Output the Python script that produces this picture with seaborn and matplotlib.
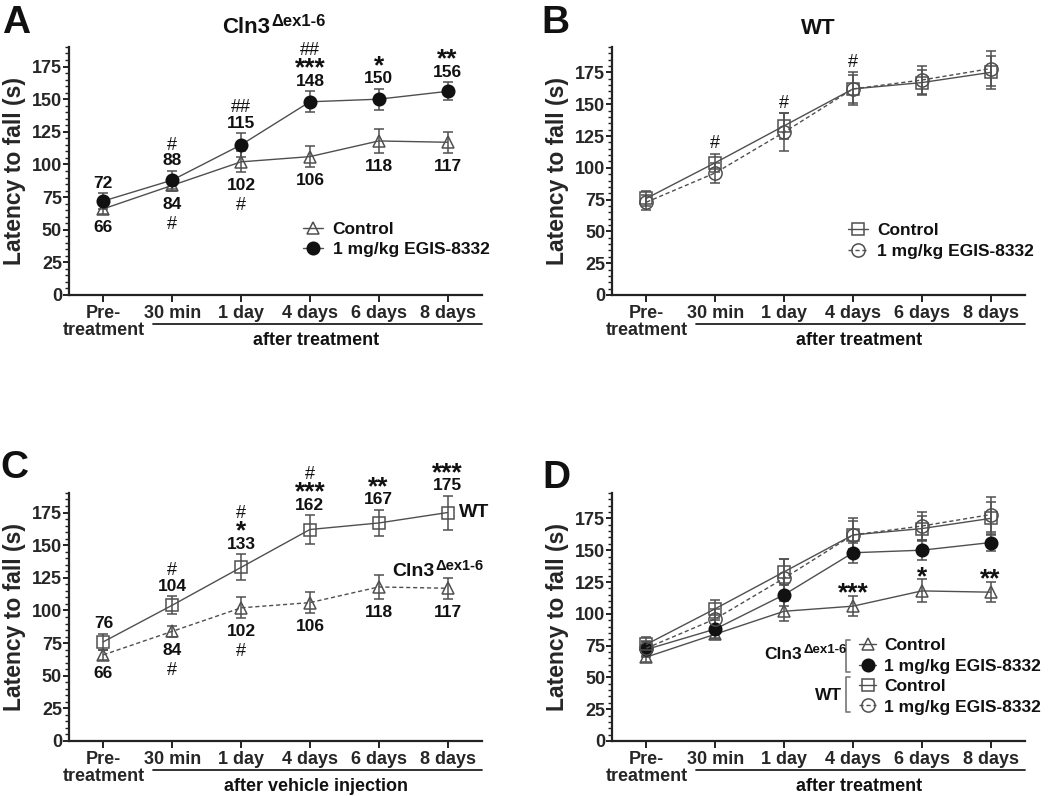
#!/usr/bin/env python

import matplotlib
matplotlib.use("Agg")
import matplotlib.pyplot as plt
from matplotlib.lines import Line2D
from matplotlib.ticker import MultipleLocator
import numpy as np
import pandas as pd
import seaborn as sns

# Time points on the x axis.
timepoints = ["Pre-\ntreatment", "30 min", "1 day", "4 days", "6 days", "8 days"]

# Mean latency to fall (s) and SEM.
cln3_ctrl = [66, 84, 102, 106, 118, 117]
cln3_ctrl_sem = [4, 4, 8, 8, 9, 8]
cln3_egis = [72, 88, 115, 148, 150, 156]
cln3_egis_sem = [6, 7, 9, 8, 8, 7]
wt_ctrl = [76, 104, 133, 162, 167, 175]
wt_ctrl_sem = [6, 7, 10, 11, 10, 13]
wt_egis = [73, 96, 128, 162, 169, 178]
wt_egis_sem = [6, 8, 15, 13, 11, 14]

# Value labels and significance marks, stacked outward from the error bar.
a_above = [["72"], ["88", "#"], ["115", "##"], ["148", "***", "##"], ["150", "*"], ["156", "**"]]
a_below = [["66"], ["84", "#"], ["102", "#"], ["106"], ["118"], ["117"]]
b_above = [[], ["#"], ["#"], ["#"], [], []]
c_above = [["76"], ["104", "#"], ["133", "*", "#"], ["162", "***", "#"], ["167", "**"], ["175", "***"]]
c_below = [["66"], ["84", "#"], ["102", "#"], ["106"], ["118"], ["117"]]
d_above = [[], [], [], ["***"], ["*"], ["**"]]

legend_labels = ["Control", "1 mg/kg EGIS-8332"]

# Long-form table for seaborn.
groups = ["cln3_ctrl", "cln3_egis", "wt_ctrl", "wt_egis"]
df = pd.DataFrame(
    {
        "pos": np.tile(np.arange(len(timepoints)), len(groups)),
        "group": np.repeat(groups, len(timepoints)),
        "latency": np.concatenate([cln3_ctrl, cln3_egis, wt_ctrl, wt_egis]),
        "sem": np.concatenate([cln3_ctrl_sem, cln3_egis_sem, wt_ctrl_sem, wt_egis_sem]),
    }
)

sns.set_style("ticks")
plt.rcParams["font.family"] = ["Liberation Sans", "DejaVu Sans"]
plt.rcParams["text.color"] = "#111111"

GRAY = "#4f4f4f"
DASH = (0, (3, 2))

styles = {
    "cln3_ctrl": dict(marker="^", ms=9, mfc="none", mec=GRAY),
    "cln3_egis": dict(marker="o", ms=9, mfc="#111111", mec="#111111"),
    "wt_ctrl": dict(marker="s", ms=8.5, mfc="none", mec=GRAY),
    "wt_egis": dict(marker="o", ms=9.5, mfc="none", mec=GRAY),
}


def draw_series(ax, key, ls="-", label=None):
    d = df[df["group"] == key]
    ax.errorbar(
        d["pos"], d["latency"], yerr=d["sem"], fmt="none", ecolor=GRAY,
        elinewidth=1.1, capsize=3.6, capthick=1.1, zorder=2,
    )
    sns.lineplot(
        data=d, x="pos", y="latency", ax=ax, color=GRAY, lw=1.0, ls=ls,
        mew=1.1, errorbar=None, zorder=3, label=label, legend=False,
        **styles[key],
    )
    return ax.lines[-1]


def stack_marks(ax, x, y, items, direction):
    # Place labels one after another, above (1) or below (-1) the point.
    ink = 0.0
    prev = None
    for s in items:
        star = s.startswith("*")
        hashm = s.startswith("#")
        fs = 19 if star else (13 if hashm else 12.5)
        if prev is None:
            gap = 5 if star else 8.5
        elif direction < 0:
            gap = 14.4
        else:
            gap = 11.0
        ink += gap
        shift = fs * (0.17 if star else 0.1)
        ax.annotate(
            s, (x, y), xytext=(0, direction * ink - shift), textcoords="offset points",
            ha="center", va="center", fontsize=fs,
            fontweight="normal" if hashm else "bold",
        )
        prev = s


def cln3_text(ax, x, y, size, sup, ha="left", transform=None):
    t = ax.text(x, y, "Cln3", fontsize=size, fontweight="bold", ha=ha, va="center",
                transform=transform if transform is not None else ax.transData)
    ax.annotate("\u0394ex1-6", xy=(1, 0.6), xycoords=t, xytext=(1, 0),
                textcoords="offset points", fontsize=sup, fontweight="bold",
                ha="left", va="baseline")
    return t


def style_axes(ax, ymax, xlabel):
    ax.set_xlim(-0.5, 5.5)
    ax.set_ylim(0, ymax)
    ax.set_xticks(range(len(timepoints)))
    ax.set_xticklabels(timepoints, fontsize=13, fontweight="bold")
    for lbl in ax.get_xticklabels():
        lbl.set_linespacing(1.0)
    ax.yaxis.set_major_locator(MultipleLocator(25))
    ax.yaxis.set_minor_locator(MultipleLocator(5))
    for lbl in ax.get_yticklabels():
        lbl.set_fontsize(13)
        lbl.set_fontweight("bold")
    ax.tick_params(axis="x", which="major", length=5, width=1.4, color="#222222", pad=2)
    ax.tick_params(axis="y", which="major", length=4.5, width=1.4, color="#222222", pad=0.5)
    ax.tick_params(axis="y", which="minor", length=3, width=1.0, color="#222222")
    ax.tick_params(axis="x", which="minor", bottom=False)
    for side in ["left", "bottom"]:
        ax.spines[side].set_linewidth(1.6)
        ax.spines[side].set_color("#222222")
    sns.despine(ax=ax)
    ax.set_xlabel("")
    ax.set_ylabel("Latency to fall (s)", fontsize=16.5, fontweight="bold")
    ax.yaxis.set_label_coords(-0.105, 0.5)
    ax.add_line(Line2D([0.203, 1.0], [-0.117, -0.117], transform=ax.transAxes,
                       color="#222222", lw=1.3, clip_on=False))
    ax.text(0.598, -0.183, xlabel, transform=ax.transAxes, ha="center", va="center",
            fontsize=13, fontweight="bold")


fig = plt.figure(figsize=(10.5, 7.96), dpi=100)
ax_a = fig.add_axes([0.0657, 0.6294, 0.3933, 0.3116])
ax_b = fig.add_axes([0.5829, 0.6294, 0.3933, 0.3116])
ax_c = fig.add_axes([0.0657, 0.0691, 0.3933, 0.3116])
ax_d = fig.add_axes([0.5829, 0.0691, 0.3933, 0.3116])

pos = np.arange(len(timepoints))
leg_font = dict(size=12.5, weight="bold")

# Panel A: Cln3 mice.
h1 = draw_series(ax_a, "cln3_ctrl", label=legend_labels[0])
h2 = draw_series(ax_a, "cln3_egis", label=legend_labels[1])
style_axes(ax_a, 190, "after treatment")
for i in pos:
    stack_marks(ax_a, i, cln3_egis[i] + cln3_egis_sem[i], a_above[i], 1)
    stack_marks(ax_a, i, cln3_ctrl[i] - cln3_ctrl_sem[i], a_below[i], -1)
ax_a.legend([h1, h2], legend_labels, loc="upper left", bbox_to_anchor=(0.567, 0.295),
            frameon=False, prop=leg_font, handlelength=1.15, handletextpad=0.55,
            labelspacing=0.3, borderpad=0, borderaxespad=0)
cln3_text(ax_a, 0.487, 1.077, 16, 12, ha="right", transform=ax_a.transAxes)

# Panel B: WT mice.
h1 = draw_series(ax_b, "wt_ctrl", label=legend_labels[0])
h2 = draw_series(ax_b, "wt_egis", ls=DASH, label=legend_labels[1])
style_axes(ax_b, 195, "after treatment")
for i in pos:
    top = max(wt_ctrl[i] + wt_ctrl_sem[i], wt_egis[i] + wt_egis_sem[i])
    stack_marks(ax_b, i, top, b_above[i], 1)
ax_b.legend([h1, h2], legend_labels, loc="upper left", bbox_to_anchor=(0.571, 0.29),
            frameon=False, prop=leg_font, handlelength=1.15, handletextpad=0.55,
            labelspacing=0.3, borderpad=0, borderaxespad=0)
ax_b.text(0.5, 1.075, "WT", transform=ax_b.transAxes, ha="center", va="center",
          fontsize=16, fontweight="bold")

# Panel C: untreated WT vs Cln3.
draw_series(ax_c, "wt_ctrl")
draw_series(ax_c, "cln3_ctrl", ls=DASH)
style_axes(ax_c, 190, "after vehicle injection")
for i in pos:
    stack_marks(ax_c, i, wt_ctrl[i] + wt_ctrl_sem[i], c_above[i], 1)
    stack_marks(ax_c, i, cln3_ctrl[i] - cln3_ctrl_sem[i], c_below[i], -1)
ax_c.annotate("WT", (pos[-1], wt_ctrl[-1]), xytext=(8, 0), textcoords="offset points",
              ha="left", va="center", fontsize=14, fontweight="bold")
cln3_text(ax_c, 4.19, 130, 14, 10.5, ha="left")

# Panel D: all four groups.
h1 = draw_series(ax_d, "cln3_ctrl")
h2 = draw_series(ax_d, "cln3_egis")
h3 = draw_series(ax_d, "wt_ctrl")
h4 = draw_series(ax_d, "wt_egis", ls=DASH)
style_axes(ax_d, 195, "after treatment")
for i in pos:
    stack_marks(ax_d, i, cln3_ctrl[i] + cln3_ctrl_sem[i], d_above[i], 1)
ax_d.legend([h1, h2, h3, h4], legend_labels * 2, loc="upper left",
            bbox_to_anchor=(0.598, 0.414), frameon=False, prop=leg_font,
            handlelength=1.0, handletextpad=0.45, labelspacing=0.3,
            borderpad=0, borderaxespad=0)
for y0, y1 in [(0.407, 0.278), (0.258, 0.117)]:
    ax_d.add_line(Line2D([0.577, 0.567, 0.567, 0.577], [y0, y0, y1, y1],
                         transform=ax_d.transAxes, color="#777777", lw=1.2, clip_on=False))
cln3_text(ax_d, 0.46, 0.347, 12.5, 9.5, ha="right", transform=ax_d.transAxes)
ax_d.text(0.557, 0.185, "WT", transform=ax_d.transAxes, ha="right", va="center",
          fontsize=12.5, fontweight="bold")

# Panel letters.
for letter, x, y in [("A", 0.002, 0.994), ("B", 0.516, 0.994), ("C", 0.0, 0.435), ("D", 0.517, 0.422)]:
    fig.text(x, y, letter, fontsize=28, fontweight="bold", ha="left", va="top")

fig.savefig("out.png", dpi=100)
